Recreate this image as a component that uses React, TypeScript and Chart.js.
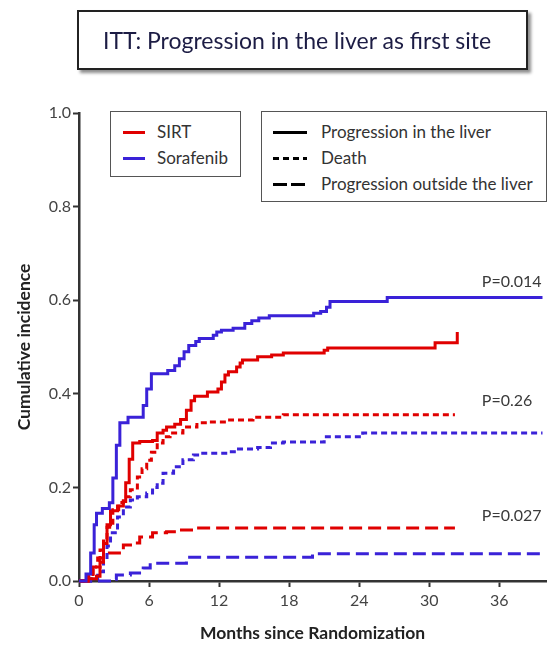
import React, { useEffect, useRef } from 'react';
import { Chart, registerables } from 'chart.js';

Chart.register(...registerables);

// ---------- Data ----------
const xTickValues = [0, 6, 12, 18, 24, 30, 36];
const yTickValues = [0, 0.2, 0.4, 0.6, 0.8, 1.0];

const sorafenibLiverMonths = [0, 0.6, 1.0, 1.3, 1.5, 2.0, 2.6, 2.9, 3.2, 3.5, 4.2, 5.5, 5.8, 6.2, 7.6, 8.2, 8.6, 9.0, 9.4, 10.0, 10.3, 11.5, 11.8, 12.2, 13.2, 14.2, 14.8, 15.4, 16.3, 20.1, 20.7, 21.2, 21.5, 26.4, 39.7];
const sorafenibLiverValues = [0, 0.015, 0.06, 0.12, 0.145, 0.155, 0.167, 0.22, 0.29, 0.338, 0.35, 0.375, 0.41, 0.443, 0.45, 0.46, 0.475, 0.49, 0.503, 0.512, 0.518, 0.525, 0.532, 0.536, 0.54, 0.55, 0.556, 0.562, 0.567, 0.572, 0.576, 0.585, 0.597, 0.606, 0.606];

const sirtLiverMonths = [0, 0.8, 1.5, 1.8, 2.1, 2.4, 2.7, 3.3, 3.8, 4.0, 4.3, 4.6, 5.2, 6.3, 6.7, 7.2, 7.5, 8.2, 8.7, 9.2, 9.6, 9.9, 11.0, 11.9, 12.2, 12.5, 12.8, 13.5, 13.8, 14.0, 15.3, 16.5, 17.5, 21.0, 21.3, 30.5, 32.4];
const sirtLiverValues = [0, 0.005, 0.01, 0.04, 0.08, 0.12, 0.15, 0.16, 0.17, 0.21, 0.26, 0.295, 0.298, 0.30, 0.316, 0.322, 0.329, 0.335, 0.345, 0.365, 0.385, 0.395, 0.404, 0.41, 0.425, 0.44, 0.447, 0.457, 0.466, 0.472, 0.479, 0.483, 0.487, 0.493, 0.498, 0.509, 0.532];

const sirtDeathMonths = [0, 0.7, 1.2, 1.8, 2.1, 2.4, 2.9, 3.4, 3.8, 4.4, 5.0, 5.4, 5.8, 6.2, 6.7, 7.2, 7.8, 8.9, 10.1, 11.0, 12.9, 14.9, 17.5, 32.2];
const sirtDeathValues = [0, 0.01, 0.03, 0.066, 0.09, 0.115, 0.152, 0.168, 0.18, 0.195, 0.222, 0.24, 0.258, 0.275, 0.295, 0.308, 0.316, 0.329, 0.338, 0.34, 0.344, 0.35, 0.355, 0.355];

const sorafenibDeathMonths = [0, 1.0, 1.6, 2.1, 2.4, 2.7, 3.3, 3.8, 4.4, 5.0, 5.8, 6.3, 6.7, 7.2, 8.1, 8.9, 9.8, 10.6, 12.9, 13.5, 15.3, 16.4, 17.5, 21.0, 24.3, 39.7];
const sorafenibDeathValues = [0, 0.005, 0.02, 0.045, 0.075, 0.103, 0.137, 0.158, 0.173, 0.18, 0.188, 0.2, 0.209, 0.23, 0.244, 0.259, 0.269, 0.273, 0.276, 0.282, 0.285, 0.295, 0.297, 0.308, 0.316, 0.316];

const sirtExtraMonths = [0, 0.8, 1.2, 1.6, 2.1, 3.8, 5.0, 5.2, 6.3, 7.5, 8.4, 9.8, 32.2];
const sirtExtraValues = [0, 0.01, 0.03, 0.049, 0.06, 0.077, 0.081, 0.094, 0.103, 0.105, 0.109, 0.113, 0.113];

const sorafenibExtraMonths = [0, 2.9, 3.2, 4.4, 5.5, 6.1, 9.2, 20.0, 39.7];
const sorafenibExtraValues = [0, 0.004, 0.013, 0.017, 0.028, 0.038, 0.051, 0.058, 0.058];

const pValueLabels = ['P=0.014', 'P=0.26', 'P=0.027'];
const pValueHeights = [0.639, 0.385, 0.139];
const pValueMonth = 34.5;

const groupLabels = ['SIRT', 'Sorafenib'];
const endpointLabels = ['Progression in the liver', 'Death', 'Progression outside the liver'];
const titleText = 'ITT: Progression in the liver as first site';
const xAxisTitle = 'Months since Randomization';
const yAxisTitle = 'Cumulative incidence';

// ---------- Styles ----------
const RED = '#e00000';
const BLUE = '#3a22d8';
const FONT = 'Lato, "Open Sans", sans-serif';
const DOTTED = [6, 4];
const DASHED = [13, 6];

const toPoints = (xs: number[], ys: number[]) => xs.map((x, i) => ({ x, y: ys[i] }));

const pLabelPlugin = {
  id: 'pLabels',
  afterDatasetsDraw(chart: any) {
    const { ctx, scales } = chart;
    ctx.save();
    ctx.font = `16px ${FONT}`;
    ctx.fillStyle = '#3a3a3a';
    ctx.textAlign = 'left';
    ctx.textBaseline = 'middle';
    pValueLabels.forEach((t, i) => {
      ctx.fillText(t, scales.x.getPixelForValue(pValueMonth), scales.y.getPixelForValue(pValueHeights[i]));
    });
    ctx.restore();
  },
};

function LineSample({ color, dash, width }: { color: string; dash: number[] | null; width: number }) {
  const bg = dash
    ? `repeating-linear-gradient(to right, ${color} 0 ${dash[0]}px, transparent ${dash[0]}px ${dash[0] + dash[1]}px)`
    : color;
  return <div style={{ width, height: 3, background: bg }} />;
}

export default function App() {
  const canvasRef = useRef<HTMLCanvasElement | null>(null);

  useEffect(() => {
    document.body.style.margin = '0';
    const canvas = canvasRef.current;
    if (!canvas) return;
    const common = { pointRadius: 0, borderWidth: 3, stepped: 'before' as const, fill: false, clip: 6 };
    const chart = new Chart(canvas, {
      type: 'line',
      data: {
        datasets: [
          { ...common, label: 'Sorafenib liver', data: toPoints(sorafenibLiverMonths, sorafenibLiverValues), borderColor: BLUE },
          { ...common, label: 'SIRT liver', data: toPoints(sirtLiverMonths, sirtLiverValues), borderColor: RED },
          { ...common, label: 'SIRT death', data: toPoints(sirtDeathMonths, sirtDeathValues), borderColor: RED, borderDash: DOTTED },
          { ...common, label: 'Sorafenib death', data: toPoints(sorafenibDeathMonths, sorafenibDeathValues), borderColor: BLUE, borderDash: DOTTED },
          { ...common, label: 'SIRT extra', data: toPoints(sirtExtraMonths, sirtExtraValues), borderColor: RED, borderDash: DASHED },
          { ...common, label: 'Sorafenib extra', data: toPoints(sorafenibExtraMonths, sorafenibExtraValues), borderColor: BLUE, borderDash: DASHED },
        ],
      },
      options: {
        responsive: false,
        animation: false,
        layout: { padding: { top: 113, right: 2, left: 0, bottom: 0 } },
        plugins: { legend: { display: false }, tooltip: { enabled: false } },
        scales: {
          x: {
            type: 'linear',
            min: 0,
            max: 40,
            afterBuildTicks: (s: any) => { s.ticks = xTickValues.map((v) => ({ value: v })); },
            afterFit: (s: any) => { s.height = 64; },
            border: { display: true, color: '#333', width: 2.5 },
            grid: { display: true, drawOnChartArea: false, drawTicks: true, tickLength: 6, tickWidth: 2, color: '#333' },
            ticks: { color: '#444', font: { family: FONT, size: 16 }, padding: 4, maxRotation: 0, autoSkip: false, callback: (v: any) => String(v) },
            title: { display: true, text: xAxisTitle, color: '#222', font: { family: FONT, size: 17.5, weight: 'bold' }, padding: { top: 0, bottom: 1 } },
          },
          y: {
            type: 'linear',
            min: 0,
            max: 1,
            afterBuildTicks: (s: any) => { s.ticks = yTickValues.map((v) => ({ value: v })); },
            afterFit: (s: any) => { s.width = 79; },
            border: { display: true, color: '#333', width: 2.5 },
            grid: { display: true, drawOnChartArea: false, drawTicks: true, tickLength: 6, tickWidth: 2, color: '#333' },
            ticks: { color: '#444', font: { family: FONT, size: 16 }, padding: 2, autoSkip: false, callback: (v: any) => Number(v).toFixed(1) },
            title: { display: true, text: yAxisTitle, color: '#222', font: { family: FONT, size: 17.5, weight: 'bold' }, padding: { top: 14, bottom: 0 } },
          },
        },
      } as any,
      plugins: [pLabelPlugin],
    });
    return () => chart.destroy();
  }, []);

  const textStyle: React.CSSProperties = { fontFamily: FONT, fontSize: 17, color: '#333', whiteSpace: 'nowrap', lineHeight: '20px' };

  return (
    <div style={{ position: 'absolute', left: 0, top: 0, width: 548, height: 645, background: '#fff', overflow: 'hidden' }}>
      <canvas ref={canvasRef} width={548} height={645} style={{ position: 'absolute', left: 0, top: 0, width: 548, height: 645 }} />
      <div
        style={{
          position: 'absolute', left: 77, top: 10, width: 451, height: 60, boxSizing: 'border-box',
          border: '2px solid #222', background: '#fff', boxShadow: '3px 3px 3px rgba(0,0,0,0.45)',
          display: 'flex', alignItems: 'center',
        }}
      >
        <span style={{ marginLeft: 24, fontFamily: FONT, fontSize: 23, color: '#1c1c44', whiteSpace: 'nowrap' }}>{titleText}</span>
      </div>
      <div style={{ position: 'absolute', left: 110, top: 111, width: 131, height: 66, boxSizing: 'border-box', border: '1px solid #555', background: '#fff' }}>
        {groupLabels.map((g, i) => (
          <div key={g} style={{ position: 'absolute', left: 12, top: 10 + i * 26, display: 'flex', alignItems: 'center' }}>
            <LineSample color={i === 0 ? RED : BLUE} dash={null} width={22} />
            <span style={{ ...textStyle, marginLeft: 12 }}>{g}</span>
          </div>
        ))}
      </div>
      <div style={{ position: 'absolute', left: 261, top: 111, width: 286, height: 91, boxSizing: 'border-box', border: '1px solid #555', background: '#fff' }}>
        {endpointLabels.map((e, i) => (
          <div key={e} style={{ position: 'absolute', left: 11, top: 10 + i * 26, display: 'flex', alignItems: 'center' }}>
            <LineSample color={'#000'} dash={i === 0 ? null : i === 1 ? [6, 4] : [14, 4]} width={34} />
            <span style={{ ...textStyle, marginLeft: 14 }}>{e}</span>
          </div>
        ))}
      </div>
    </div>
  );
}
